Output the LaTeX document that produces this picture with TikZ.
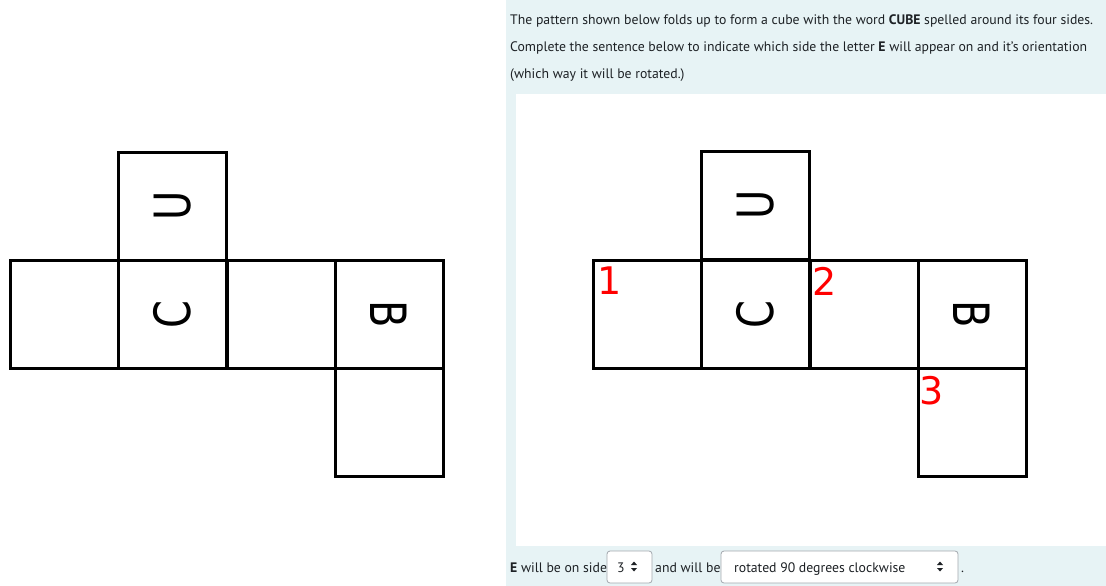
\documentclass[tikz,border=0pt]{standalone}
\usepackage{fontspec}
\setmainfont{PT Sans}
\newfontfamily\dejavu{DejaVu Sans}
\definecolor{bgblue}{HTML}{E7F3F5}
\definecolor{textc}{HTML}{1D2125}
\definecolor{selc}{HTML}{A3A8AE}
\begin{document}
\begin{tikzpicture}[x=1pt,y=-1pt,
  cell/.style={draw=black, line width=3pt, minimum size=108.3pt, inner sep=0pt, outer sep=0pt, anchor=north west},
  ltr/.style={font=\dejavu\fontsize{50}{50}\selectfont, inner sep=0pt, text=black},
  num/.style={text=red, font=\dejavu\fontsize{38}{38}\selectfont, inner sep=0pt, anchor=north west},
  txt/.style={font=\fontsize{13.75}{16}\selectfont, text=textc, inner sep=0pt, anchor=base west},
  sel/.style={draw=selc, fill=white, rounded corners=3pt, line width=0.8pt, inner sep=0pt, outer sep=0pt, anchor=north west},
  updown/.style={fill=textc}]
\useasboundingbox (0,0) rectangle (1106,586);
\fill[white] (0,0) rectangle (1106,586);
\fill[bgblue] (506,0) rectangle (1106,586);
\fill[white] (516,94) rectangle (1106,546);

% left net
\node[cell] (lU) at (118.5,152) {};
\node[cell] (l1) at (10,260) {};
\node[cell] (lC) at (118.5,260) {};
\node[cell] (l2) at (227,260) {};
\node[cell] (lB) at (335,260) {};
\node[cell] (l3) at (335,368.5) {};
\node[ltr, rotate=90] (lUt) at (lU.center) {\scalebox{0.8}[1]{U}};
\node[ltr, rotate=90] (lCt) at (lC.center) {\scalebox{0.8}[1]{C}};
\node[ltr, rotate=-90] (lBt) at (lB.center) {\scalebox{0.8}[1]{B}};

% right net
\node[cell] (rU) at (701.5,151) {};
\node[cell] (r1) at (593,260) {};
\node[cell] (rC) at (701.5,260) {};
\node[cell] (r2) at (810,260) {};
\node[cell] (rB) at (918,260) {};
\node[cell] (r3) at (918,368) {};
\node[ltr, rotate=90] (rUt) at (rU.center) {\scalebox{0.8}[1]{U}};
\node[ltr, rotate=90] (rCt) at (rC.center) {\scalebox{0.8}[1]{C}};
\node[ltr, rotate=-90] (rBt) at (rB.center) {\scalebox{0.8}[1]{B}};
\node[num] (n1) at (597,267) {1};
\node[num] (n2) at (812,267) {2};
\node[num] (n3) at (919,376) {3};

% question text
\node[txt] (q1) at (510,25) {The pattern shown below folds up to form a cube with the word \textbf{CUBE} spelled around its four sides.};
\node[txt] (q2) at (510,52) {Complete the sentence below to indicate which side the letter \textbf{E} will appear on and it's orientation};
\node[txt] (q3) at (510,79) {(which way it will be rotated.)};

% answer line
\node[txt] (a1) at (510,572) {\textbf{E} will be on side};
\node[sel, minimum width=45pt, minimum height=32pt] (s1) at (607,551) {};
\node[txt] (s1t) at (617,572) {3};
\fill[updown] (631,565) -- (637,565) -- (634,561.5) -- cycle;
\fill[updown] (631,568) -- (637,568) -- (634,571.5) -- cycle;
\node[txt] (a2) at (655,572) {and will be};
\node[sel, minimum width=237pt, minimum height=32pt] (s2) at (721,551) {};
\node[txt] (s2t) at (734,572) {rotated 90 degrees clockwise};
\fill[updown] (937,565) -- (943,565) -- (940,561.5) -- cycle;
\fill[updown] (937,568) -- (943,568) -- (940,571.5) -- cycle;
\node[txt] (a3) at (961,572) {.};
\end{tikzpicture}
\end{document}
